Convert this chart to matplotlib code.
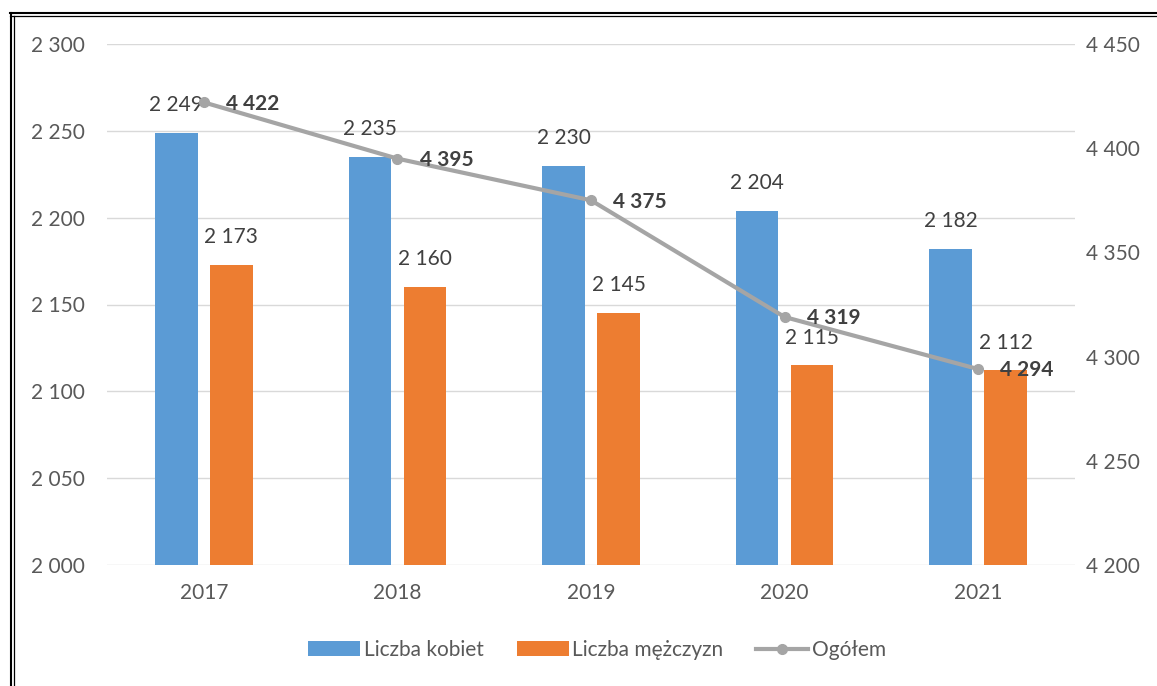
import numpy as np
import matplotlib.pyplot as plt
from matplotlib.lines import Line2D

plt.rcParams['font.family'] = ['Lato', 'DejaVu Sans']

# Data
years = ['2017', '2018', '2019', '2020', '2021']
women = [2249, 2235, 2230, 2204, 2182]
men = [2173, 2160, 2145, 2115, 2112]
total = [4422, 4395, 4375, 4319, 4294]

left_ticks = [2000, 2050, 2100, 2150, 2200, 2250, 2300]
right_ticks = [4200, 4250, 4300, 4350, 4400, 4450]

blue = '#5B9BD5'
orange = '#ED7D31'
grey = '#A5A5A5'
txt = '#595959'
lbl = '#404040'
fs = 15


def fmt(v):
    return f"{v:,}".replace(",", " ")


W, H = 1157, 686
fig = plt.figure(figsize=(W / 100, H / 100), dpi=100)
ax = fig.add_axes([107 / W, 1 - 565 / H, (1075 - 107) / W, (565 - 44) / H])
ax2 = ax.twinx()

x = np.arange(len(years))
bw = 0.22
off = 0.142

b1 = ax.bar(x - off, women, bw, color=blue, label='Liczba kobiet', zorder=2)
b2 = ax.bar(x + off, men, bw, color=orange, label='Liczba mężczyzn', zorder=2)

for rect, v in zip(b1, women):
    ax.annotate(fmt(v), (rect.get_x() + rect.get_width() / 2, v),
                xytext=(0, 20), textcoords='offset points', ha='center', va='center',
                fontsize=fs, color=lbl)
for rect, v in zip(b2, men):
    ax.annotate(fmt(v), (rect.get_x() + rect.get_width() / 2, v),
                xytext=(0, 20), textcoords='offset points', ha='center', va='center',
                fontsize=fs, color=lbl)

ax.set_ylim(2000, 2300)
ax.set_yticks(left_ticks)
ax.set_yticklabels([fmt(t) for t in left_ticks])
ax.set_xlim(-0.5, len(years) - 0.5)
ax.set_xticks(x)
ax.set_xticklabels(years)
ax.grid(axis='y', color='#D9D9D9', lw=1, zorder=0)
ax.set_axisbelow(True)

ln, = ax2.plot(x, total, color=grey, lw=3, marker='o', ms=7, label='Ogółem', zorder=3)
for xi, v in zip(x, total):
    ax2.annotate(fmt(v), (xi, v), xytext=(16, -1), textcoords='offset points',
                 ha='left', va='center', fontsize=fs, color=lbl, fontweight='bold')
ax2.set_ylim(4200, 4450)
ax2.set_yticks(right_ticks)
ax2.set_yticklabels([fmt(t) for t in right_ticks])

for a in (ax, ax2):
    for s in a.spines.values():
        s.set_visible(False)
    a.tick_params(length=0, labelsize=fs, labelcolor=txt)
ax.tick_params(axis='y', pad=16)
ax.tick_params(axis='x', pad=13)
ax2.tick_params(axis='y', pad=8)
ax2.set_zorder(ax.get_zorder() + 1)
ax2.patch.set_visible(False)

fig.legend(handles=[b1, b2, ln], labels=['Liczba kobiet', 'Liczba mężczyzn', 'Ogółem'],
           loc='center', bbox_to_anchor=(597 / W, 1 - 650 / H), ncol=3, frameon=False,
           fontsize=fs, labelcolor=txt, handlelength=2.5, handleheight=0.75,
           handletextpad=0.15, columnspacing=1.6)

# double frame on top and left (pixel positions)
top = 1 - 12.5 / H
for y, lw in [(12.5, 1.5), (16.0, 0.9)]:
    fig.add_artist(Line2D([10 / W, 1], [1 - y / H, 1 - y / H], color='black', lw=lw,
                          transform=fig.transFigure))
fig.add_artist(Line2D([10.5 / W, 10.5 / W], [0, 1 - 12.5 / H], color='black', lw=1.5,
                      transform=fig.transFigure))
fig.add_artist(Line2D([14.0 / W, 14.0 / W], [0, 1 - 16.0 / H], color='black', lw=0.9,
                      transform=fig.transFigure))

fig.savefig('out.png', dpi=100, facecolor='white')
